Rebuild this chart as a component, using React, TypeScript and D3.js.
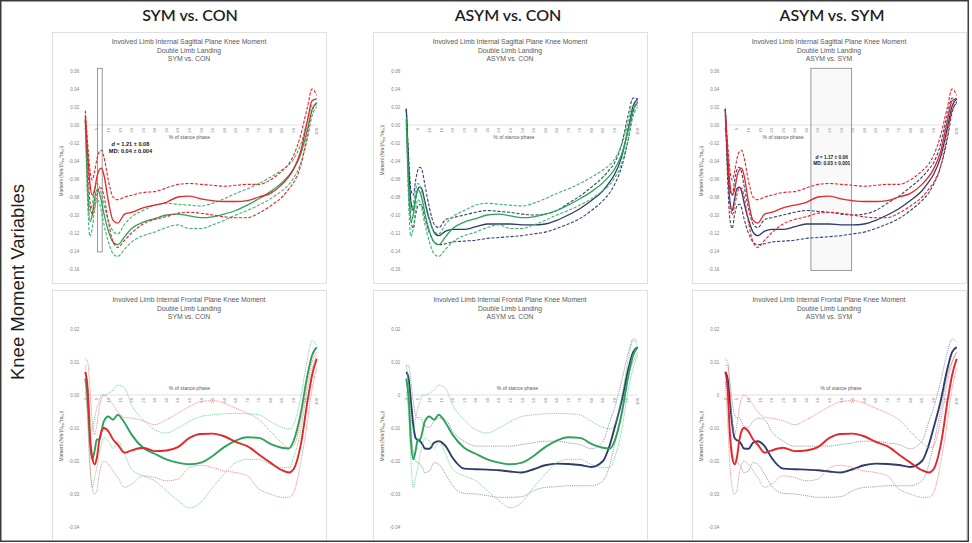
import React from "react";
import * as d3 from "d3";

// % of stance phase at which every curve is sampled
const stancePct = [0, 1, 2, 3, 4, 5, 6, 7, 8, 10, 12, 14, 17, 20, 25, 30, 35, 40, 45, 50, 55, 60, 65, 70, 75, 80, 85, 88, 90, 93, 96, 98, 100];

// Sagittal plane knee moment (mean, +1 SD, -1 SD)
const sagSymMean = [0.011, -0.03, -0.065, -0.078, -0.072, -0.058, -0.05, -0.048, -0.055, -0.085, -0.106, -0.109, -0.099, -0.097, -0.092, -0.089, -0.086, -0.08, -0.079, -0.082, -0.084, -0.085, -0.085, -0.084, -0.08, -0.076, -0.066, -0.057, -0.049, -0.03, 0.005, 0.027, 0.029];
const sagSymUpper = [0.016, -0.02, -0.05, -0.061, -0.052, -0.038, -0.03, -0.028, -0.035, -0.062, -0.08, -0.083, -0.08, -0.078, -0.075, -0.074, -0.07, -0.066, -0.065, -0.066, -0.067, -0.068, -0.067, -0.066, -0.066, -0.061, -0.051, -0.043, -0.034, -0.012, 0.02, 0.04, 0.033];
const sagSymLower = [0.006, -0.04, -0.085, -0.1, -0.09, -0.078, -0.07, -0.07, -0.078, -0.108, -0.13, -0.136, -0.128, -0.12, -0.11, -0.105, -0.102, -0.098, -0.097, -0.098, -0.1, -0.102, -0.103, -0.103, -0.098, -0.09, -0.08, -0.071, -0.064, -0.046, -0.01, 0.016, 0.024];
const sagConMean = [0.006, -0.07, -0.107, -0.1, -0.082, -0.072, -0.075, -0.085, -0.098, -0.118, -0.13, -0.133, -0.124, -0.115, -0.108, -0.104, -0.1, -0.099, -0.101, -0.103, -0.102, -0.099, -0.095, -0.089, -0.082, -0.074, -0.064, -0.056, -0.049, -0.033, -0.005, 0.017, 0.025];
const sagConUpper = [0.008, -0.06, -0.095, -0.088, -0.072, -0.065, -0.068, -0.077, -0.088, -0.106, -0.118, -0.121, -0.11, -0.102, -0.095, -0.089, -0.087, -0.088, -0.089, -0.09, -0.087, -0.082, -0.076, -0.071, -0.065, -0.058, -0.05, -0.044, -0.038, -0.022, 0.004, 0.022, 0.022];
const sagConLower = [0.004, -0.085, -0.124, -0.115, -0.095, -0.083, -0.086, -0.097, -0.11, -0.13, -0.143, -0.146, -0.138, -0.13, -0.123, -0.119, -0.114, -0.111, -0.115, -0.115, -0.111, -0.106, -0.1, -0.095, -0.089, -0.082, -0.073, -0.066, -0.059, -0.043, -0.015, 0.01, 0.02];
const sagAsymMean = [0.018, -0.045, -0.085, -0.095, -0.082, -0.071, -0.069, -0.073, -0.085, -0.105, -0.119, -0.123, -0.118, -0.116, -0.116, -0.113, -0.11, -0.11, -0.11, -0.111, -0.111, -0.11, -0.106, -0.1, -0.093, -0.084, -0.073, -0.063, -0.055, -0.036, -0.003, 0.021, 0.029];
const sagAsymUpper = [0.018, -0.035, -0.072, -0.078, -0.062, -0.05, -0.047, -0.052, -0.066, -0.092, -0.11, -0.114, -0.105, -0.103, -0.1, -0.097, -0.095, -0.096, -0.097, -0.099, -0.1, -0.099, -0.095, -0.087, -0.079, -0.069, -0.058, -0.049, -0.042, -0.022, 0.012, 0.03, 0.029];
const sagAsymLower = [0.017, -0.06, -0.105, -0.115, -0.1, -0.09, -0.088, -0.092, -0.103, -0.12, -0.13, -0.133, -0.132, -0.13, -0.129, -0.128, -0.126, -0.125, -0.124, -0.123, -0.121, -0.119, -0.115, -0.11, -0.104, -0.095, -0.084, -0.075, -0.066, -0.047, -0.015, 0.014, 0.026];

// Frontal plane knee moment (mean, +1 SD, -1 SD)
const frontSymMean = [0.007, 0.002, -0.012, -0.019, -0.021, -0.019, -0.014, -0.011, -0.01, -0.011, -0.0135, -0.015, -0.0175, -0.0168, -0.016, -0.017, -0.0168, -0.0158, -0.013, -0.0118, -0.0117, -0.0125, -0.0142, -0.0155, -0.018, -0.0205, -0.0228, -0.0235, -0.0225, -0.0155, -0.002, 0.006, 0.011];
const frontSymUpper = [0.011, 0.01, 0.002, -0.008, -0.012, -0.009, -0.004, -0.001, 0, -0.001, -0.003, -0.005, -0.0068, -0.007, -0.0078, -0.009, -0.0075, -0.0055, -0.0035, -0.002, -0.0017, -0.0025, -0.004, -0.0055, -0.0075, -0.011, -0.0145, -0.016, -0.0155, -0.008, 0.004, 0.01, 0.013];
const frontSymLower = [0.004, -0.008, -0.022, -0.028, -0.03, -0.029, -0.024, -0.021, -0.02, -0.021, -0.023, -0.025, -0.028, -0.027, -0.0245, -0.025, -0.026, -0.0255, -0.022, -0.0213, -0.022, -0.023, -0.0235, -0.0245, -0.0285, -0.03, -0.031, -0.031, -0.0295, -0.021, -0.008, 0.002, 0.008];
const frontConMean = [0.005, -0.001, -0.014, -0.0195, -0.017, -0.0135, -0.0135, -0.011, -0.008, -0.0065, -0.0075, -0.006, -0.0085, -0.012, -0.016, -0.0178, -0.0195, -0.0205, -0.021, -0.0205, -0.0185, -0.0158, -0.0138, -0.0128, -0.013, -0.0148, -0.016, -0.0162, -0.014, -0.006, 0.006, 0.012, 0.0145];
const frontConUpper = [0.009, 0.003, -0.006, -0.011, -0.007, -0.004, -0.002, 0, 0, 0.0005, 0.0015, 0.003, 0.002, -0.003, -0.0075, -0.0105, -0.0115, -0.01, -0.008, -0.0065, -0.006, -0.0057, -0.0056, -0.0057, -0.006, -0.008, -0.0098, -0.0103, -0.009, -0.001, 0.011, 0.0165, 0.015];
const frontConLower = [0.001, -0.006, -0.02, -0.028, -0.025, -0.022, -0.018, -0.015, -0.013, -0.014, -0.0162, -0.014, -0.018, -0.0225, -0.0245, -0.026, -0.029, -0.032, -0.0342, -0.0325, -0.028, -0.024, -0.0205, -0.0195, -0.0195, -0.021, -0.022, -0.022, -0.019, -0.011, 0.002, 0.008, 0.012];
const frontAsymMean = [0.007, 0.005, -0.002, -0.009, -0.013, -0.0137, -0.014, -0.015, -0.0162, -0.0163, -0.0145, -0.014, -0.0155, -0.019, -0.0223, -0.0225, -0.0226, -0.0228, -0.0232, -0.0235, -0.0225, -0.0213, -0.0208, -0.0209, -0.0212, -0.0218, -0.02, -0.015, -0.01, -0.002, 0.008, 0.013, 0.0145];
const frontAsymUpper = [0.009, 0.009, 0.004, -0.002, -0.006, -0.007, -0.0068, -0.008, -0.0095, -0.0098, -0.008, -0.007, -0.0075, -0.011, -0.014, -0.0155, -0.0155, -0.0155, -0.0155, -0.015, -0.0145, -0.014, -0.014, -0.0145, -0.015, -0.0163, -0.014, -0.008, -0.004, 0.004, 0.013, 0.017, 0.016];
const frontAsymLower = [0.004, 0, -0.01, -0.017, -0.02, -0.0205, -0.021, -0.022, -0.0235, -0.023, -0.0205, -0.021, -0.024, -0.0275, -0.0298, -0.03, -0.0305, -0.031, -0.031, -0.0308, -0.029, -0.028, -0.0278, -0.0275, -0.0275, -0.0275, -0.026, -0.021, -0.015, -0.005, 0.006, 0.01, 0.013];

// axis ticks
const stanceTicks = [0, 5, 10, 15, 20, 25, 30, 35, 40, 45, 50, 55, 60, 65, 70, 75, 80, 85, 90, 95, 100];
const sagittalTicks = [0.06, 0.04, 0.02, 0, -0.02, -0.04, -0.06, -0.08, -0.1, -0.12, -0.14, -0.16];
const frontalTicks = [0.02, 0.01, 0, -0.01, -0.02, -0.03, -0.04];

const columnTitles = ["SYM vs. CON", "ASYM vs. CON", "ASYM vs. SYM"];
const rowTitles = ["Involved Limb Internal Sagittal Plane Knee Moment", "Involved Limb Internal Frontal Plane Knee Moment"];

type Group = "SYM" | "CON" | "ASYM";

const sagittal: Record<Group, number[][]> = {
  SYM: [sagSymMean, sagSymUpper, sagSymLower],
  CON: [sagConMean, sagConUpper, sagConLower],
  ASYM: [sagAsymMean, sagAsymUpper, sagAsymLower],
};
const frontal: Record<Group, number[][]> = {
  SYM: [frontSymMean, frontSymUpper, frontSymLower],
  CON: [frontConMean, frontConUpper, frontConLower],
  ASYM: [frontAsymMean, frontAsymUpper, frontAsymLower],
};

// draw order per column (last one ends up on top)
const columnGroups: Group[][] = [
  ["CON", "SYM"],
  ["ASYM", "CON"],
  ["ASYM", "SYM"],
];

const meanColor: Record<Group, string> = { SYM: "#e4252a", CON: "#2ba35a", ASYM: "#2e3c6a" };
const sdColorTop: Record<Group, string> = { SYM: "#e4252a", CON: "#3bb56a", ASYM: "#33447a" };
const sdColorBottom: Record<Group, string> = { SYM: "#f07575", CON: "#5fc98c", ASYM: "#7e87a3" };

const panelLefts = [52, 373, 692];
const panelTops = [32, 290];
const panelW = 274;
const panelH = 251;

const chartFont = "'Liberation Sans', Arial, sans-serif";

type Note = { x0: number; x1: number; y0: number; y1: number; fill: string; tx: number; ty: number; d: string; md: string; size: number };
const notes: Record<string, Note> = {
  "0-0": { x0: 5.3, x1: 7.3, y0: 0.063, y1: -0.141, fill: "none", tx: 19.5, ty: -0.0238, d: "1.21 ± 0.08", md: "MD: 0.04 ± 0.004", size: 5.6 },
  "0-2": { x0: 37, x1: 54.6, y0: 0.063, y1: -0.1615, fill: "rgba(215,215,215,0.15)", tx: 46, ty: -0.038, d: "1.17 ± 0.06", md: "MD: 0.03 ± 0.001", size: 4.8 },
};

// where the "% of stance phase" caption sits, in stance %
const captionPos = [
  [45, 46.5, 25],
  [45, 48, 50],
];

function Panel({ row, col }: { row: number; col: number }) {
  const left = panelLefts[col];
  const top = panelTops[row];
  const ticks = row === 0 ? sagittalTicks : frontalTicks;
  const x = d3.scaleLinear().domain([0, 100]).range([left + 33.3, left + 264.7]);
  const y = d3
    .scaleLinear()
    .domain([ticks[0], ticks[ticks.length - 1]])
    .range([top + 39, top + 237]);
  const line = d3
    .line<number>()
    .x((_, i) => x(stancePct[i]))
    .y((v) => y(v))
    .curve(d3.curveMonotoneX);
  const data = row === 0 ? sagittal : frontal;
  const groupLabel = columnTitles[col];
  const fmt = (v: number) => {
    if (v === 0) return row === 1 && col > 0 ? "0" : "0.00";
    return v.toFixed(2);
  };
  const note = notes[`${row}-${col}`];
  const cx = left + panelW / 2;
  const zeroY = y(0);

  return (
    <g>
      <rect x={left + 0.5} y={top + 0.5} width={panelW} height={panelH} fill="#fff" stroke="#d9d9d9" strokeWidth={0.8} />
      <g fontFamily={chartFont} fill="#595959" fontSize={6.8} textAnchor="middle">
        <text x={cx} y={top + 12}>{rowTitles[row]}</text>
        <text x={cx} y={top + 20.5}>Double Limb Landing</text>
        <text x={cx} y={top + 29}>{groupLabel}</text>
      </g>

      {/* value axis labels */}
      <g fontFamily={chartFont} fill="#7f7f7f" fontSize={4.6} textAnchor="end">
        {ticks.map((t) => (
          <text key={t} x={x(0) - 6} y={y(t) + 1.6}>
            {fmt(t)}
          </text>
        ))}
      </g>
      <text
        transform={`translate(${left + 11},${row === 0 ? (col === 1 ? top + 118 : top + 139) : top + 146}) rotate(-90)`}
        fontFamily={chartFont}
        fill="#595959"
        fontSize={4.8}
        textAnchor="middle"
      >
        Moment (Nm/(N
        <tspan dy={1} fontSize={3.6}>bw</tspan>
        <tspan dy={-1}>*m</tspan>
        <tspan dy={1} fontSize={3.6}>ht</tspan>
        <tspan dy={-1}>))</tspan>
      </text>

      {/* category axis crossing at zero */}
      <line x1={x(0)} x2={x(100)} y1={zeroY} y2={zeroY} stroke="#d9d9d9" strokeWidth={0.8} />
      <g fontFamily={chartFont} fill="#7f7f7f" fontSize={4.2} textAnchor="end">
        {stanceTicks.map((t) => (
          <text key={t} transform={`translate(${x(t) + 1.5},${zeroY + 3}) rotate(-90)`}>
            {t}
          </text>
        ))}
      </g>
      <text
        x={x(captionPos[row][col])}
        y={row === 0 ? zeroY + 14 : zeroY - 5.5}
        fontFamily={chartFont}
        fill="#595959"
        fontSize={5}
        textAnchor="middle"
      >
        % of stance phase
      </text>

      {note && (
        <rect
          x={x(note.x0)}
          y={y(note.y0)}
          width={x(note.x1) - x(note.x0)}
          height={y(note.y1) - y(note.y0)}
          fill={note.fill}
          stroke="#808080"
          strokeWidth={0.8}
        />
      )}

      {columnGroups[col].map((g) => {
        const [mean, upper, lower] = data[g];
        const sdColor = row === 0 ? sdColorTop[g] : sdColorBottom[g];
        const sdDash = row === 0 ? "3.2,1.6" : "1.2,0.9";
        const sdWidth = row === 0 ? 1.1 : 0.8;
        return (
          <g key={g} fill="none">
            <path d={line(upper) ?? ""} stroke={sdColor} strokeWidth={sdWidth} strokeDasharray={sdDash} />
            <path d={line(lower) ?? ""} stroke={sdColor} strokeWidth={sdWidth} strokeDasharray={sdDash} />
            <path d={line(mean) ?? ""} stroke={meanColor[g]} strokeWidth={row === 0 ? 1.3 : 1.9} />
          </g>
        );
      })}

      {note && (
        <g fontFamily={chartFont} fontWeight="bold" fill="#1a1a1a" fontSize={note.size} textAnchor="middle">
          <text x={x(note.tx)} y={y(note.ty)}>
            <tspan fontStyle="italic">d</tspan> = {note.d}
          </text>
          <text x={x(note.tx)} y={y(note.ty) + note.size * 1.2}>
            {note.md}
          </text>
        </g>
      )}
    </g>
  );
}

export default function App() {
  const headerX = [190, 508, 832];
  return (
    <svg width={972} height={543} style={{ position: "absolute", left: 0, top: 0, background: "#fff" }}>
      <rect x={0} y={0} width={972} height={543} fill="#fff" />
      {headerX.map((hx, i) => (
        <text key={i} x={hx} y={21} textAnchor="middle" fontFamily="Lato, 'Open Sans', sans-serif" fontWeight={600} fontSize={16} fill="#1e1e1e">
          {columnTitles[i]}
        </text>
      ))}
      <text
        transform="translate(24,282) rotate(-90)"
        textAnchor="middle"
        fontFamily="'Liberation Sans', Arial, sans-serif"
        fontSize={18.5}
        fill="#1e1e1e"
      >
        Knee Moment Variables
      </text>
      {[0, 1].map((r) => [0, 1, 2].map((c) => <Panel key={`${r}-${c}`} row={r} col={c} />))}
      <rect x={0.75} y={0.75} width={967.5} height={540.5} fill="none" stroke="#3c3c3c" strokeWidth={1.5} />
    </svg>
  );
}
